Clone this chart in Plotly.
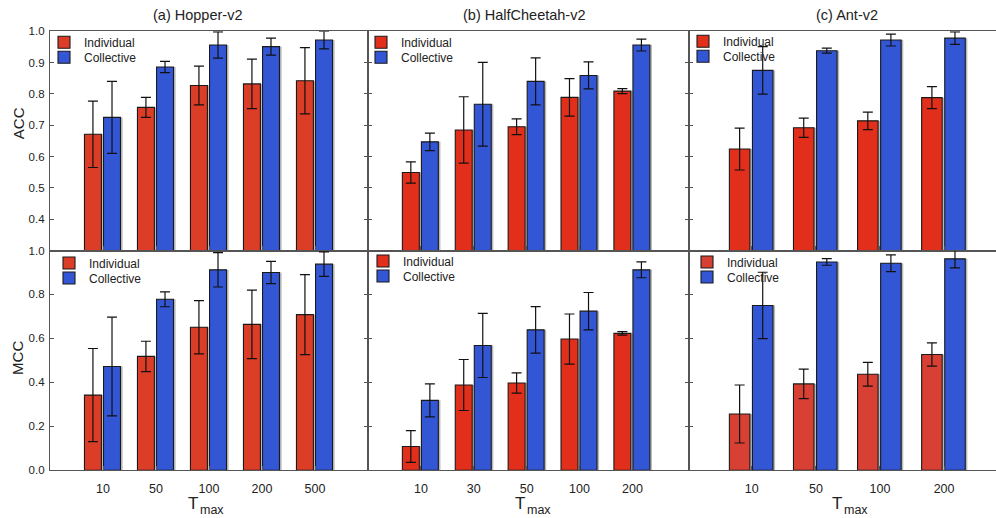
import plotly.graph_objects as go

# ---------------- data ----------------
hopper_T = ["10", "50", "100", "200", "500"]
cheetah_T = ["10", "30", "50", "100", "200"]
ant_T = ["10", "50", "100", "200"]

hopper_acc_ind = [0.671, 0.757, 0.827, 0.832, 0.842]
hopper_acc_ind_err = [0.106, 0.032, 0.062, 0.079, 0.106]
hopper_acc_col = [0.725, 0.886, 0.956, 0.951, 0.972]
hopper_acc_col_err = [0.115, 0.018, 0.042, 0.027, 0.028]

cheetah_acc_ind = [0.549, 0.685, 0.695, 0.789, 0.809]
cheetah_acc_ind_err = [0.034, 0.106, 0.025, 0.060, 0.008]
cheetah_acc_col = [0.647, 0.767, 0.840, 0.859, 0.956]
cheetah_acc_col_err = [0.028, 0.134, 0.075, 0.043, 0.019]

ant_acc_ind = [0.624, 0.692, 0.714, 0.788]
ant_acc_ind_err = [0.067, 0.031, 0.028, 0.035]
ant_acc_col = [0.875, 0.938, 0.972, 0.978]
ant_acc_col_err = [0.076, 0.008, 0.019, 0.020]

hopper_mcc_ind = [0.342, 0.518, 0.651, 0.664, 0.708]
hopper_mcc_ind_err = [0.212, 0.069, 0.121, 0.156, 0.182]
hopper_mcc_col = [0.472, 0.778, 0.912, 0.900, 0.938]
hopper_mcc_col_err = [0.225, 0.034, 0.078, 0.051, 0.056]

cheetah_mcc_ind = [0.108, 0.388, 0.397, 0.597, 0.623]
cheetah_mcc_ind_err = [0.072, 0.116, 0.046, 0.114, 0.008]
cheetah_mcc_col = [0.318, 0.568, 0.639, 0.724, 0.912]
cheetah_mcc_col_err = [0.075, 0.146, 0.106, 0.085, 0.036]

ant_mcc_ind = [0.256, 0.393, 0.437, 0.527]
ant_mcc_ind_err = [0.132, 0.067, 0.054, 0.053]
ant_mcc_col = [0.750, 0.948, 0.942, 0.962]
ant_mcc_col_err = [0.151, 0.015, 0.038, 0.041]

series_names = ["Individual", "Collective"]
panel_titles = ["(a) Hopper-v2", "(b) HalfCheetah-v2", "(c) Ant-v2"]
metric_names = ["ACC", "MCC"]
xlabel_main, xlabel_sub = "T", "max"

# ---------------- style ----------------
FONT = "Liberation Sans, Arial, sans-serif"
W, H = 996, 518
BLUE = "rgb(51,86,212)"
RED_A = "rgb(219,61,39)"
RED_B = "rgb(226,47,27)"
RED_C = "rgb(216,64,52)"
FRAME = "#555555"
SHADOW = "rgba(100,100,100,0.45)"

panels = [
    (hopper_T, hopper_acc_ind, hopper_acc_ind_err, hopper_acc_col, hopper_acc_col_err, RED_A),
    (cheetah_T, cheetah_acc_ind, cheetah_acc_ind_err, cheetah_acc_col, cheetah_acc_col_err, RED_B),
    (ant_T, ant_acc_ind, ant_acc_ind_err, ant_acc_col, ant_acc_col_err, RED_B),
    (hopper_T, hopper_mcc_ind, hopper_mcc_ind_err, hopper_mcc_col, hopper_mcc_col_err, RED_A),
    (cheetah_T, cheetah_mcc_ind, cheetah_mcc_ind_err, cheetah_mcc_col, cheetah_mcc_col_err, RED_B),
    (ant_T, ant_mcc_ind, ant_mcc_ind_err, ant_mcc_col, ant_mcc_col_err, RED_C),
]

# vertical placement correction measured from previous renders
Y_SCALE, Y_SHIFT = 0.978, 5.7


def px_x(p):
    return p / W


def px_y(p):
    return 1 - ((p - Y_SHIFT) / Y_SCALE) / H


x_domains = [[px_x(50), px_x(368)], [px_x(368), px_x(689)], [px_x(689), 1.0]]
x_ranges = [[-1, 5.0], [-1, 5.07], [-0.98, 3.81]]
y_domains = [[px_y(250.5), px_y(31)], [px_y(470.5), px_y(250.5)]]
y_ranges = [[0.3, 1.0], [0.0, 1.0]]
shadow_shift = [0.04, 0.04, 0.033]

legend_pos = [(84, 42), (401, 42), (723, 41), (89, 263), (403, 261), (727, 262)]

fig = go.Figure()

for i, (cats, ind, ind_e, col, col_e, red) in enumerate(panels):
    k = "" if i == 0 else str(i + 1)
    xa, ya = "x" + k, "y" + k
    leg1 = "legend" if i == 0 else "legend" + str(2 * i + 1)
    leg2 = "legend" + str(2 * i + 2)
    sh = shadow_shift[i % 3]
    # soft drop shadows behind the bars
    for vals, off in ((ind, -0.35), (col, 0.01)):
        fig.add_trace(go.Bar(
            x=cats, y=vals, xaxis=xa, yaxis=ya, offset=off + sh, width=0.32,
            marker=dict(color=SHADOW, line=dict(width=0)),
            showlegend=False, hoverinfo="skip",
        ))
    err_style = dict(type="data", color="#111111", thickness=1.2, width=5)
    fig.add_trace(go.Bar(
        x=cats, y=ind, name=series_names[0], xaxis=xa, yaxis=ya,
        offset=-0.35, width=0.32,
        marker=dict(color=red, line=dict(color="#1a1a1a", width=1.1)),
        error_y=dict(array=ind_e, **err_style),
        legend=leg1, showlegend=True,
    ))
    fig.add_trace(go.Bar(
        x=cats, y=col, name=series_names[1], xaxis=xa, yaxis=ya,
        offset=0.01, width=0.32,
        marker=dict(color=BLUE, line=dict(color="#1a1a1a", width=1.1)),
        error_y=dict(array=col_e, **err_style),
        legend=leg2, showlegend=True,
    ))

layout = dict(
    width=W, height=H,
    margin=dict(l=0, r=0, t=0, b=0),
    paper_bgcolor="white", plot_bgcolor="white",
    barmode="overlay",
    font=dict(family=FONT, color="#222222"),
)

for i in range(6):
    row, colm = divmod(i, 3)
    k = "" if i == 0 else str(i + 1)
    xaxis = dict(
        domain=x_domains[colm], range=x_ranges[colm], type="category",
        anchor="y" + k,
        showline=True, linecolor=FRAME, linewidth=1.3, mirror=True,
        ticks="inside", ticklen=4, tickcolor=FRAME, tickwidth=1,
        showgrid=False, zeroline=False, fixedrange=True,
        showticklabels=(row == 1),
        tickfont=dict(size=12.5, family=FONT, color="#222222"),
        ticklabelstandoff=7,
    )
    yaxis = dict(
        domain=y_domains[row], range=y_ranges[row],
        anchor="x" + k,
        showline=True, linecolor=FRAME, linewidth=1.3,
        mirror=("ticks" if colm < 2 else False),
        ticks="inside", ticklen=4, tickcolor=FRAME, tickwidth=1,
        showgrid=False, zeroline=False, fixedrange=True,
        showticklabels=(colm == 0),
        tickfont=dict(size=11.5, family=FONT, color="#222222"),
        tickformat=".1f",
        ticklabelstandoff=2,
    )
    if row == 0:
        yaxis["tickvals"] = [0.4, 0.5, 0.6, 0.7, 0.8, 0.9, 1.0]
    else:
        yaxis["dtick"] = 0.2
    layout["xaxis" + k] = xaxis
    layout["yaxis" + k] = yaxis

    tx, ty = legend_pos[i]
    leg_common = dict(
        xref="paper", yref="paper", xanchor="left", yanchor="middle",
        bgcolor="rgba(0,0,0,0)", borderwidth=0,
        font=dict(size=12, family=FONT, color="#222222"),
        itemclick=False, itemdoubleclick=False,
    )
    leg1 = "legend" if i == 0 else "legend" + str(2 * i + 1)
    leg2 = "legend" + str(2 * i + 2)
    layout[leg1] = dict(x=px_x(tx - 40), y=px_y(ty), **leg_common)
    layout[leg2] = dict(x=px_x(tx - 40), y=px_y(ty + 15), **leg_common)

annotations = []
for t, cx in zip(panel_titles, [197, 524, 847]):
    annotations.append(dict(
        text=t, x=px_x(cx), y=px_y(15), xref="paper", yref="paper",
        showarrow=False, font=dict(size=14.5, family=FONT, color="#222222"),
        xanchor="center", yanchor="middle",
    ))
for m, cy in zip(metric_names, [123, 358]):
    annotations.append(dict(
        text=m, x=px_x(18), y=px_y(cy), xref="paper", yref="paper",
        showarrow=False, textangle=-90,
        font=dict(size=15, family=FONT, color="#222222"),
        xanchor="center", yanchor="middle",
    ))
# "T" with subscript "max" under each bottom panel
for tx_right in [199, 526, 843]:
    annotations.append(dict(
        text=xlabel_main, x=px_x(tx_right + 1), y=px_y(504), xref="paper", yref="paper",
        showarrow=False, font=dict(size=17, family=FONT, color="#222222"),
        xanchor="right", yanchor="middle", xshift=0,
    ))
    annotations.append(dict(
        text=xlabel_sub, x=px_x(tx_right - 1), y=px_y(510), xref="paper", yref="paper",
        showarrow=False, font=dict(size=12.5, family=FONT, color="#222222"),
        xanchor="left", yanchor="middle",
    ))
layout["annotations"] = annotations

fig.update_layout(**layout)
fig.write_html(
    "out.html",
    config={"displayModeBar": False},
    post_script="document.body.style.margin='0';document.body.style.overflow='hidden';",
)
